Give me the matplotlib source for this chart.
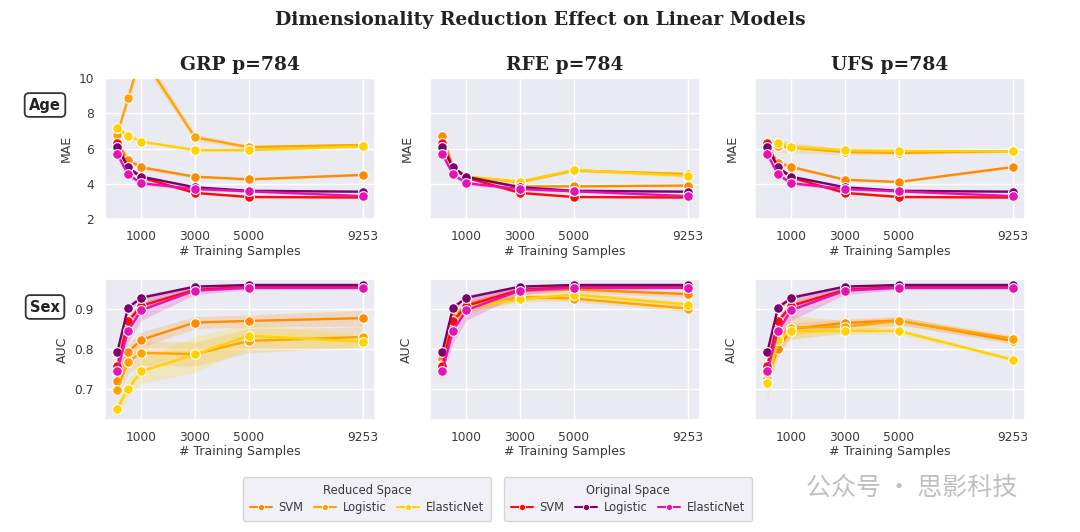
import matplotlib
matplotlib.use("Agg")
import matplotlib.pyplot as plt
from matplotlib.lines import Line2D
import seaborn as sns
import numpy as np

sns.set_theme(style="darkgrid")
plt.rcParams['font.family'] = ['DejaVu Sans', 'Noto Sans CJK SC']

x_samples = [100, 500, 1000, 3000, 5000, 9253]
x_ticks = [1000, 3000, 5000, 9253]
methods = ["GRP", "RFE", "UFS"]
models = ["SVM", "Logistic", "ElasticNet"]

# colours
reduced_colors = ["#ff8c00", "#ffa500", "#ffd200"]
original_colors = ["#ff0a0a", "#7e006c", "#e612b4"]

# ---- Age (MAE), original space: same baseline in every panel
orig_mae_svm = [6.3, 4.9, 4.35, 3.48, 3.25, 3.22]
orig_mae_log = [6.1, 4.93, 4.4, 3.8, 3.6, 3.55]
orig_mae_enet = [5.7, 4.53, 4.03, 3.7, 3.57, 3.3]
orig_mae_svm_ci = [0.15, 0.1, 0.08, 0.06, 0.05, 0.05]
orig_mae_log_ci = [0.15, 0.1, 0.08, 0.06, 0.05, 0.05]
orig_mae_enet_ci = [0.15, 0.12, 0.12, 0.08, 0.06, 0.06]

# ---- Age (MAE), reduced space
grp_mae_svm = [6.4, 5.35, 4.93, 4.4, 4.25, 4.5]
grp_mae_log = [6.76, 8.84, 11.3, 6.63, 6.08, 6.2]
grp_mae_enet = [7.14, 6.73, 6.39, 5.91, 5.91, 6.12]
grp_mae_svm_ci = [0.2, 0.15, 0.12, 0.08, 0.06, 0.06]
grp_mae_log_ci = [0.2, 0.2, 0.4, 0.2, 0.1, 0.1]
grp_mae_enet_ci = [0.15, 0.1, 0.08, 0.08, 0.08, 0.06]

rfe_mae_svm = [6.7, 5.0, 4.3, 3.85, 3.85, 3.9]
rfe_mae_log = [6.0, 4.9, 4.4, 4.1, 4.75, 4.55]
rfe_mae_enet = [5.9, 4.8, 4.4, 4.12, 4.78, 4.45]
rfe_mae_svm_ci = [0.15, 0.1, 0.1, 0.06, 0.06, 0.06]
rfe_mae_log_ci = [0.15, 0.1, 0.1, 0.08, 0.08, 0.1]
rfe_mae_enet_ci = [0.15, 0.1, 0.1, 0.08, 0.08, 0.1]

ufs_mae_svm = [6.1, 5.2, 4.95, 4.23, 4.1, 4.95]
ufs_mae_log = [6.2, 6.15, 6.05, 5.8, 5.75, 5.85]
ufs_mae_enet = [6.35, 6.3, 6.1, 5.9, 5.87, 5.85]
ufs_mae_svm_ci = [0.2, 0.15, 0.1, 0.06, 0.06, 0.06]
ufs_mae_log_ci = [0.4, 0.35, 0.3, 0.15, 0.1, 0.06]
ufs_mae_enet_ci = [0.2, 0.15, 0.12, 0.1, 0.08, 0.06]

# ---- Sex (AUC), original space
orig_auc_svm = [0.757, 0.869, 0.908, 0.948, 0.955, 0.955]
orig_auc_log = [0.791, 0.903, 0.928, 0.956, 0.96, 0.96]
orig_auc_enet = [0.744, 0.845, 0.897, 0.946, 0.953, 0.953]
orig_auc_svm_ci = [0.02, 0.012, 0.01, 0.005, 0.004, 0.004]
orig_auc_log_ci = [0.015, 0.008, 0.006, 0.004, 0.003, 0.003]
orig_auc_enet_ci = [0.02, 0.03, 0.025, 0.01, 0.005, 0.004]

# ---- Sex (AUC), reduced space
grp_auc_svm = [0.72, 0.792, 0.823, 0.866, 0.87, 0.877]
grp_auc_log = [0.698, 0.768, 0.79, 0.787, 0.82, 0.83]
grp_auc_enet = [0.65, 0.70, 0.744, 0.786, 0.833, 0.818]
grp_auc_svm_ci = [0.02, 0.02, 0.02, 0.015, 0.015, 0.02]
grp_auc_log_ci = [0.02, 0.03, 0.03, 0.03, 0.03, 0.025]
grp_auc_enet_ci = [0.015, 0.02, 0.03, 0.045, 0.03, 0.015]

rfe_auc_svm = [0.775, 0.88, 0.91, 0.945, 0.949, 0.937]
rfe_auc_log = [0.76, 0.865, 0.9, 0.93, 0.926, 0.901]
rfe_auc_enet = [0.755, 0.865, 0.905, 0.924, 0.936, 0.911]
rfe_auc_svm_ci = [0.02, 0.015, 0.01, 0.008, 0.008, 0.008]
rfe_auc_log_ci = [0.03, 0.015, 0.012, 0.008, 0.008, 0.008]
rfe_auc_enet_ci = [0.03, 0.015, 0.012, 0.008, 0.008, 0.008]

ufs_auc_svm = [0.73, 0.80, 0.85, 0.865, 0.871, 0.82]
ufs_auc_log = [0.74, 0.83, 0.853, 0.856, 0.87, 0.826]
ufs_auc_enet = [0.714, 0.823, 0.844, 0.845, 0.845, 0.773]
ufs_auc_svm_ci = [0.03, 0.02, 0.015, 0.01, 0.01, 0.008]
ufs_auc_log_ci = [0.04, 0.03, 0.03, 0.015, 0.01, 0.008]
ufs_auc_enet_ci = [0.05, 0.02, 0.015, 0.008, 0.008, 0.005]

reduced_mae = {
    "GRP": [(grp_mae_svm, grp_mae_svm_ci), (grp_mae_log, grp_mae_log_ci), (grp_mae_enet, grp_mae_enet_ci)],
    "RFE": [(rfe_mae_svm, rfe_mae_svm_ci), (rfe_mae_log, rfe_mae_log_ci), (rfe_mae_enet, rfe_mae_enet_ci)],
    "UFS": [(ufs_mae_svm, ufs_mae_svm_ci), (ufs_mae_log, ufs_mae_log_ci), (ufs_mae_enet, ufs_mae_enet_ci)],
}
reduced_auc = {
    "GRP": [(grp_auc_svm, grp_auc_svm_ci), (grp_auc_log, grp_auc_log_ci), (grp_auc_enet, grp_auc_enet_ci)],
    "RFE": [(rfe_auc_svm, rfe_auc_svm_ci), (rfe_auc_log, rfe_auc_log_ci), (rfe_auc_enet, rfe_auc_enet_ci)],
    "UFS": [(ufs_auc_svm, ufs_auc_svm_ci), (ufs_auc_log, ufs_auc_log_ci), (ufs_auc_enet, ufs_auc_enet_ci)],
}
original_mae = [(orig_mae_svm, orig_mae_svm_ci), (orig_mae_log, orig_mae_log_ci), (orig_mae_enet, orig_mae_enet_ci)]
original_auc = [(orig_auc_svm, orig_auc_svm_ci), (orig_auc_log, orig_auc_log_ci), (orig_auc_enet, orig_auc_enet_ci)]


def draw(ax, series, color):
    vals, ci = series
    v = np.array(vals)
    c = np.array(ci)
    ax.fill_between(x_samples, v - c, v + c, color=color, alpha=0.2, lw=0)
    ax.plot(x_samples, v, color=color, lw=1.7, marker="o", ms=7,
            mec="white", mew=0.8)


fig = plt.figure(figsize=(10.8, 5.32), dpi=100)
lefts = [105 / 1080, 430 / 1080, 755 / 1080]
w = 270 / 1080
h = 141 / 532
bottoms = [1 - 219 / 532, 1 - 420 / 532]

text_col = "#3a3a3a"
for j, m in enumerate(methods):
    for i in range(2):
        ax = fig.add_axes([lefts[j], bottoms[i], w, h])
        if i == 0:
            for s, col in zip(reduced_mae[m], reduced_colors):
                draw(ax, s, col)
            for s, col in zip(original_mae, original_colors):
                draw(ax, s, col)
            ax.set_ylim(2, 10)
            ax.set_yticks([2, 4, 6, 8, 10])
            ax.set_ylabel("MAE", fontsize=9, color=text_col)
            ax.set_title(f"{m} p=784", fontsize=13.5, fontweight="bold",
                         family="DejaVu Serif", color="#222222", pad=6)
        else:
            for s, col in zip(reduced_auc[m], reduced_colors):
                draw(ax, s, col)
            for s, col in zip(original_auc, original_colors):
                draw(ax, s, col)
            ax.set_ylim(0.622, 0.975)
            ax.set_yticks([0.7, 0.8, 0.9])
            ax.set_ylabel("AUC", fontsize=9, color=text_col)
        ax.set_xlim(-355, 9708)
        ax.set_xticks(x_ticks)
        ax.set_xlabel("# Training Samples", fontsize=9, color=text_col, labelpad=1)
        ax.tick_params(axis="both", labelsize=8.8, colors=text_col, pad=2)
        if j > 0:
            ax.set_yticklabels([])

fig.suptitle("Dimensionality Reduction Effect on Linear Models", fontsize=13.5,
             fontweight="bold", family="DejaVu Serif", color="#222222", y=0.98)

box = dict(boxstyle="round,pad=0.3", fc="white", ec="#333333", lw=1.3)
fig.text(45 / 1080, 1 - 105 / 532, "Age", fontsize=10.5, fontweight="bold",
         ha="center", va="center", bbox=box, color="#222222")
fig.text(45 / 1080, 1 - 307 / 532, "Sex", fontsize=10.5, fontweight="bold",
         ha="center", va="center", bbox=box, color="#222222")


def handles(colors):
    return [Line2D([0], [0], color=c, lw=1.5, marker="o", ms=4.5, mec="white", mew=0.6)
            for c in colors]


leg_kw = dict(ncol=3, fontsize=8.3, title_fontsize=8.3, frameon=True, loc="center",
              handlelength=1.9, columnspacing=0.9, handletextpad=0.6,
              borderpad=0.6, labelspacing=0.3, borderaxespad=0)
l1 = fig.legend(handles(reduced_colors), models, title="Reduced Space",
                bbox_to_anchor=(367 / 1080, 33 / 532), **leg_kw)
l2 = fig.legend(handles(original_colors), models, title="Original Space",
                bbox_to_anchor=(628 / 1080, 33 / 532), **leg_kw)
for lg in (l1, l2):
    lg.get_frame().set_facecolor("#eeedf4")
    lg.get_frame().set_edgecolor("#cccccc")
    lg.get_title().set_color(text_col)
    for t in lg.get_texts():
        t.set_color(text_col)

# watermark from the source screenshot
fig.text(806 / 1080, 1 - 488 / 532, "公众号 · 思影科技", fontsize=18,
         family=["Noto Sans CJK SC", "DejaVu Sans"], color="#b0b0b0",
         ha="left", va="center", alpha=0.8)

fig.savefig("out.png", dpi=100, facecolor="white")
